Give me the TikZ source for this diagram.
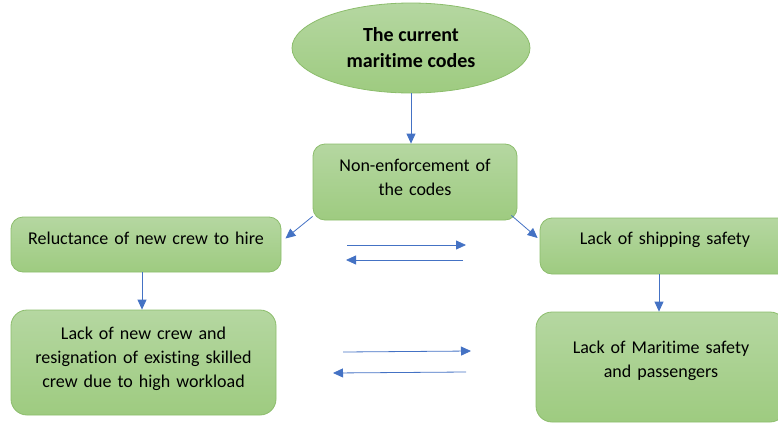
\documentclass[tikz,border=0pt]{standalone}
\usepackage{fontspec}
\setmainfont{Carlito}[Ligatures=NoCommon]
\usepackage{tikz}
\usetikzlibrary{shapes,arrows,positioning,calc,arrows.meta}

\definecolor{boxtop}{HTML}{B5D7A1}
\definecolor{boxbot}{HTML}{9ECB80}
\definecolor{boxline}{HTML}{8CBD6C}
\definecolor{arrowblue}{HTML}{4472C4}

\tikzset{
  greenbox/.style={rectangle, rounded corners=12pt, draw=boxline, line width=0.8pt,
    top color=boxtop, bottom color=boxbot, align=center, inner sep=0pt,
    font=\fontsize{18}{24}\selectfont},
  lift/.style={execute at end node={\par\vspace*{#1}}},
  link/.style={draw=arrowblue, line width=0.8pt, -{Triangle[length=10pt,width=9pt]}},
}

\begin{document}
\begin{tikzpicture}[x=1pt, y=-1pt]
    \useasboundingbox (0,0) rectangle (778,423);
    \clip (0,0) rectangle (778,423);

    % Top ellipse
    \node[ellipse, draw=boxline, line width=0.8pt, top color=boxtop, bottom color=boxbot,
          minimum width=238pt, minimum height=90pt, inner sep=0pt, align=center,
          font=\fontsize{20}{26}\selectfont\bfseries] (codes) at (411,48) {The current\\maritime codes};

    % Boxes
    \node[greenbox, text width=196pt, minimum width=204pt, minimum height=76pt, lift=10pt] (enforce) at (415,182) {Non-enforcement of\\the codes};
    \node[greenbox, text width=262pt, minimum width=270pt, minimum height=55pt, lift=12pt] (reluct) at (146,244.5) {Reluctance of new crew to hire};
    \node[greenbox, text width=240pt, minimum width=250pt, minimum height=56pt, lift=12pt] (shipping) at (665,246) {Lack of shipping safety};
    \node[greenbox, rounded corners=16pt, text width=258pt, minimum width=265pt, minimum height=105pt, lift=7pt] (lackcrew) at (143.5,362.5) {Lack of new crew and\\resignation of existing skilled\\crew due to high workload};
    \node[greenbox, rounded corners=16pt, text width=240pt, minimum width=250pt, minimum height=110pt, lift=13pt] (maritime) at (661,367) {Lack of Maritime safety\\and passengers};

    % Arrows down the tree
    \draw[link] (codes.south) -- (codes.south |- enforce.north);
    \draw[link] ([yshift=4pt]enforce.south west) -- ([xshift=4pt,yshift=6pt]reluct.east);
    \draw[link] ([xshift=-6pt,yshift=5pt]enforce.south east) -- ([xshift=-2pt,yshift=8pt]shipping.west);
    \draw[link] ([xshift=-4pt]reluct.south) -- ([xshift=-4pt]reluct.south |- lackcrew.north);
    \draw[link] ([xshift=-6pt]shipping.south) -- ([xshift=-6pt]shipping.south |- maritime.north);

    % Two-way links between the columns
    \coordinate (r1) at (347,245); \coordinate (r2) at (466,245);
    \coordinate (r3) at (463,260); \coordinate (r4) at (346,260);
    \coordinate (c1) at (343,352); \coordinate (c2) at (471,351);
    \coordinate (c3) at (466,372); \coordinate (c4) at (333,373);
    \draw[link] (r1) -- (r2);
    \draw[link] (r3) -- (r4);
    \draw[link] (c1) -- (c2);
    \draw[link] (c3) -- (c4);
\end{tikzpicture}
\end{document}
